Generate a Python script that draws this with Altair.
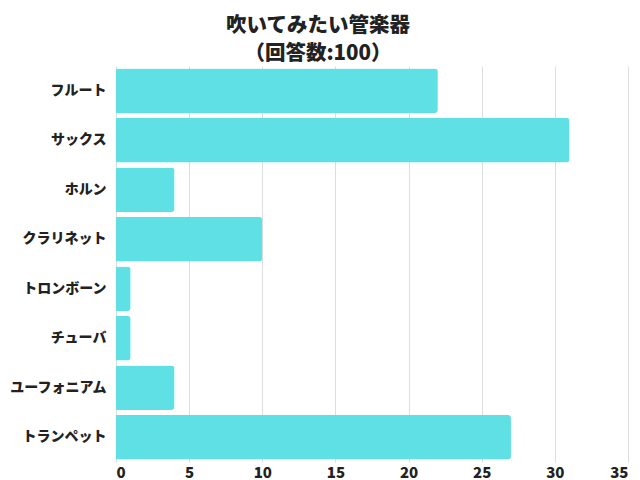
import altair as alt
import pandas as pd

instruments = ["フルート", "サックス", "ホルン", "クラリネット", "トロンボーン", "チューバ", "ユーフォニアム", "トランペット"]
counts = [22, 31, 4, 10, 1, 1, 4, 27]
x_ticks = [0, 5, 10, 15, 20, 25, 30, 35]

df = pd.DataFrame({"instrument": instruments, "count": counts})

FONT = "Noto Sans CJK JP"

chart = alt.Chart(df).mark_bar(
    color="#5ee0e4", cornerRadiusTopRight=3, cornerRadiusBottomRight=3
).encode(
    y=alt.Y("instrument:N", sort=instruments, title=None,
            scale=alt.Scale(paddingInner=0.1, paddingOuter=0.05),
            axis=alt.Axis(domain=False, ticks=False, labelFont=FONT, labelFontWeight=900,
                          labelFontSize=14, labelColor="#222222", labelPadding=10)),
    x=alt.X("count:Q", title=None,
            scale=alt.Scale(domain=[0, 35], nice=False),
            axis=alt.Axis(values=x_ticks, domain=False, ticks=False, grid=True,
                          gridColor="#dddddd", labelFont=FONT, labelFontWeight=900,
                          labelFontSize=15, labelColor="#222222", labelPadding=3)),
).properties(
    width=512,
    height=396,
    autosize=alt.AutoSizeParams(type="none"),
    padding={"left": 108, "top": 58, "right": 4, "bottom": 18},
    title=alt.Title(["吹いてみたい管楽器", "（回答数:100）"], font=FONT, fontSize=20.5,
                    fontWeight=900, color="#222222", lineHeight=28, anchor="middle",
                    frame="bounds", offset=2),
).configure_view(stroke=None)

chart.save("out.html", embed_options={"renderer": "svg", "actions": False})
